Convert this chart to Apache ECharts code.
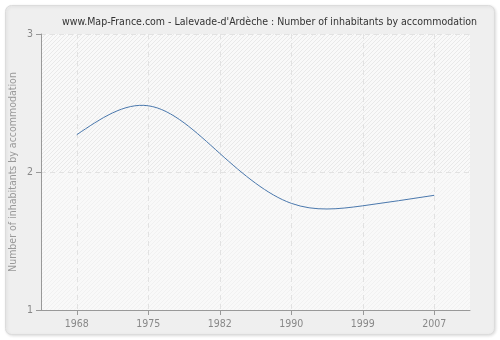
<!DOCTYPE html>
<html>
<head>
<meta charset="utf-8">
<script src="https://cdn.jsdelivr.net/npm/echarts@6/dist/echarts.min.js"></script>
<style>
html,body{margin:0;padding:0;background:#ffffff;}
#chart{width:500px;height:340px;}
</style>
</head>
<body>
<div id="chart"></div>
<script>
var titleText = "www.Map-France.com - Lalevade-d'Ardèche : Number of inhabitants by accommodation";
var yAxisName = "Number of inhabitants by accommodation";
var years = ["1968", "1975", "1982", "1990", "1999", "2007"];
var inhabitantsPerHome = [2.27, 2.48, 2.135, 1.773, 1.755, 1.831];
var yTicks = [1, 2, 3];

var FONT = 'DejaVu Sans Condensed';

function hatch(bg, fg) {
  var n = 4;
  var c = document.createElement('canvas');
  c.width = n; c.height = n;
  var ctx = c.getContext('2d');
  ctx.fillStyle = bg;
  ctx.fillRect(0, 0, n, n);
  ctx.fillStyle = fg;
  for (var i = 0; i < n; i++) {
    ctx.fillRect(i, n - 1 - i, 1, 1);
  }
  return { image: c, repeat: 'repeat' };
}

// Natural cubic spline through pixel points -> path data with cubic beziers
function splinePath(pts) {
  var n = pts.length;
  if (n < 2) return '';
  var xs = pts.map(function (p) { return p[0]; });
  var ys = pts.map(function (p) { return p[1]; });
  var h = [], i;
  for (i = 0; i < n - 1; i++) h.push(xs[i + 1] - xs[i]);
  var a = [], b = [], c = [], d = [];
  for (i = 0; i < n; i++) {
    if (i === 0 || i === n - 1) { a.push(0); b.push(1); c.push(0); d.push(0); }
    else {
      a.push(h[i - 1]);
      b.push(2 * (h[i - 1] + h[i]));
      c.push(h[i]);
      d.push(6 * ((ys[i + 1] - ys[i]) / h[i] - (ys[i] - ys[i - 1]) / h[i - 1]));
    }
  }
  var cp = [], dp = [];
  cp[0] = c[0] / b[0]; dp[0] = d[0] / b[0];
  for (i = 1; i < n; i++) {
    var m = b[i] - a[i] * cp[i - 1];
    cp[i] = c[i] / m;
    dp[i] = (d[i] - a[i] * dp[i - 1]) / m;
  }
  var M = new Array(n);
  M[n - 1] = dp[n - 1];
  for (i = n - 2; i >= 0; i--) M[i] = dp[i] - cp[i] * M[i + 1];
  var path = 'M' + xs[0] + ' ' + ys[0];
  for (i = 0; i < n - 1; i++) {
    var hi = h[i];
    var s = (ys[i + 1] - ys[i]) / hi;
    var m0 = s - hi * (2 * M[i] + M[i + 1]) / 6;
    var m1 = s + hi * (M[i] + 2 * M[i + 1]) / 6;
    var c1x = xs[i] + hi / 3, c1y = ys[i] + m0 * hi / 3;
    var c2x = xs[i + 1] - hi / 3, c2y = ys[i + 1] - m1 * hi / 3;
    path += ' C' + c1x + ' ' + c1y + ' ' + c2x + ' ' + c2y + ' ' + xs[i + 1] + ' ' + ys[i + 1];
  }
  return path;
}

var seriesData = inhabitantsPerHome.map(function (v, i) { return [i, v]; });

var chart = echarts.init(document.getElementById('chart'), null, { renderer: 'canvas' });
chart.setOption({
  backgroundColor: '#ffffff',
  animation: false,
  graphic: [{
    type: 'rect',
    z: -10,
    shape: { x: 5.5, y: 5.5, width: 489, height: 329, r: 6 },
    style: { fill: '#efefef', stroke: '#dcdcdc', lineWidth: 1, shadowBlur: 3, shadowColor: 'rgba(0,0,0,0.12)', shadowOffsetX: 1, shadowOffsetY: 1 }
  }],
  title: {
    text: titleText,
    left: 57,
    top: 12,
    textStyle: { fontFamily: FONT, fontSize: 10.5, fontWeight: 'normal', color: '#333333' }
  },
  grid: { left: 41, right: 30, top: 34, bottom: 30, containLabel: false, outerBoundsMode: 'none' },
  xAxis: {
    type: 'category',
    data: years,
    boundaryGap: true,
    axisLine: { show: true, lineStyle: { color: '#999999', width: 1 } },
    axisTick: { show: true, alignWithLabel: true, length: 5, lineStyle: { color: '#999999' } },
    axisLabel: { color: '#888888', fontFamily: FONT, fontSize: 10.5, margin: 9 },
    splitLine: { show: true, alignWithLabel: true, lineStyle: { color: '#e2e2e2', type: [5, 4], width: 1 } }
  },
  yAxis: {
    type: 'value',
    min: yTicks[0],
    max: yTicks[yTicks.length - 1],
    interval: 1,
    name: yAxisName,
    nameLocation: 'middle',
    nameGap: 22,
    nameMoveOverlap: false,
    nameTextStyle: { color: '#999999', fontFamily: FONT, fontSize: 10.5 },
    axisLine: { show: true, lineStyle: { color: '#999999', width: 1 } },
    axisTick: { show: true, length: 5, lineStyle: { color: '#999999' } },
    axisLabel: { color: '#888888', fontFamily: FONT, fontSize: 10.5, margin: 8 },
    splitLine: { show: true, lineStyle: { color: '#e2e2e2', type: [5, 4], width: 1 } },
    splitArea: { show: true, areaStyle: { color: [hatch('#f9f9f9', '#f1f1f1'), hatch('#f9f9f9', '#e9e9e9')] } }
  },
  series: [{
    type: 'custom',
    data: seriesData,
    encode: { x: 0, y: 1 },
    z: 5,
    renderItem: function (params, api) {
      if (params.dataIndex !== 0) return null;
      var pts = seriesData.map(function (d) { return api.coord(d); });
      return {
        type: 'path',
        shape: { pathData: splinePath(pts) },
        style: { stroke: '#4a78ad', fill: 'none', lineWidth: 1 }
      };
    }
  }]
});
</script>
</body>
</html>
